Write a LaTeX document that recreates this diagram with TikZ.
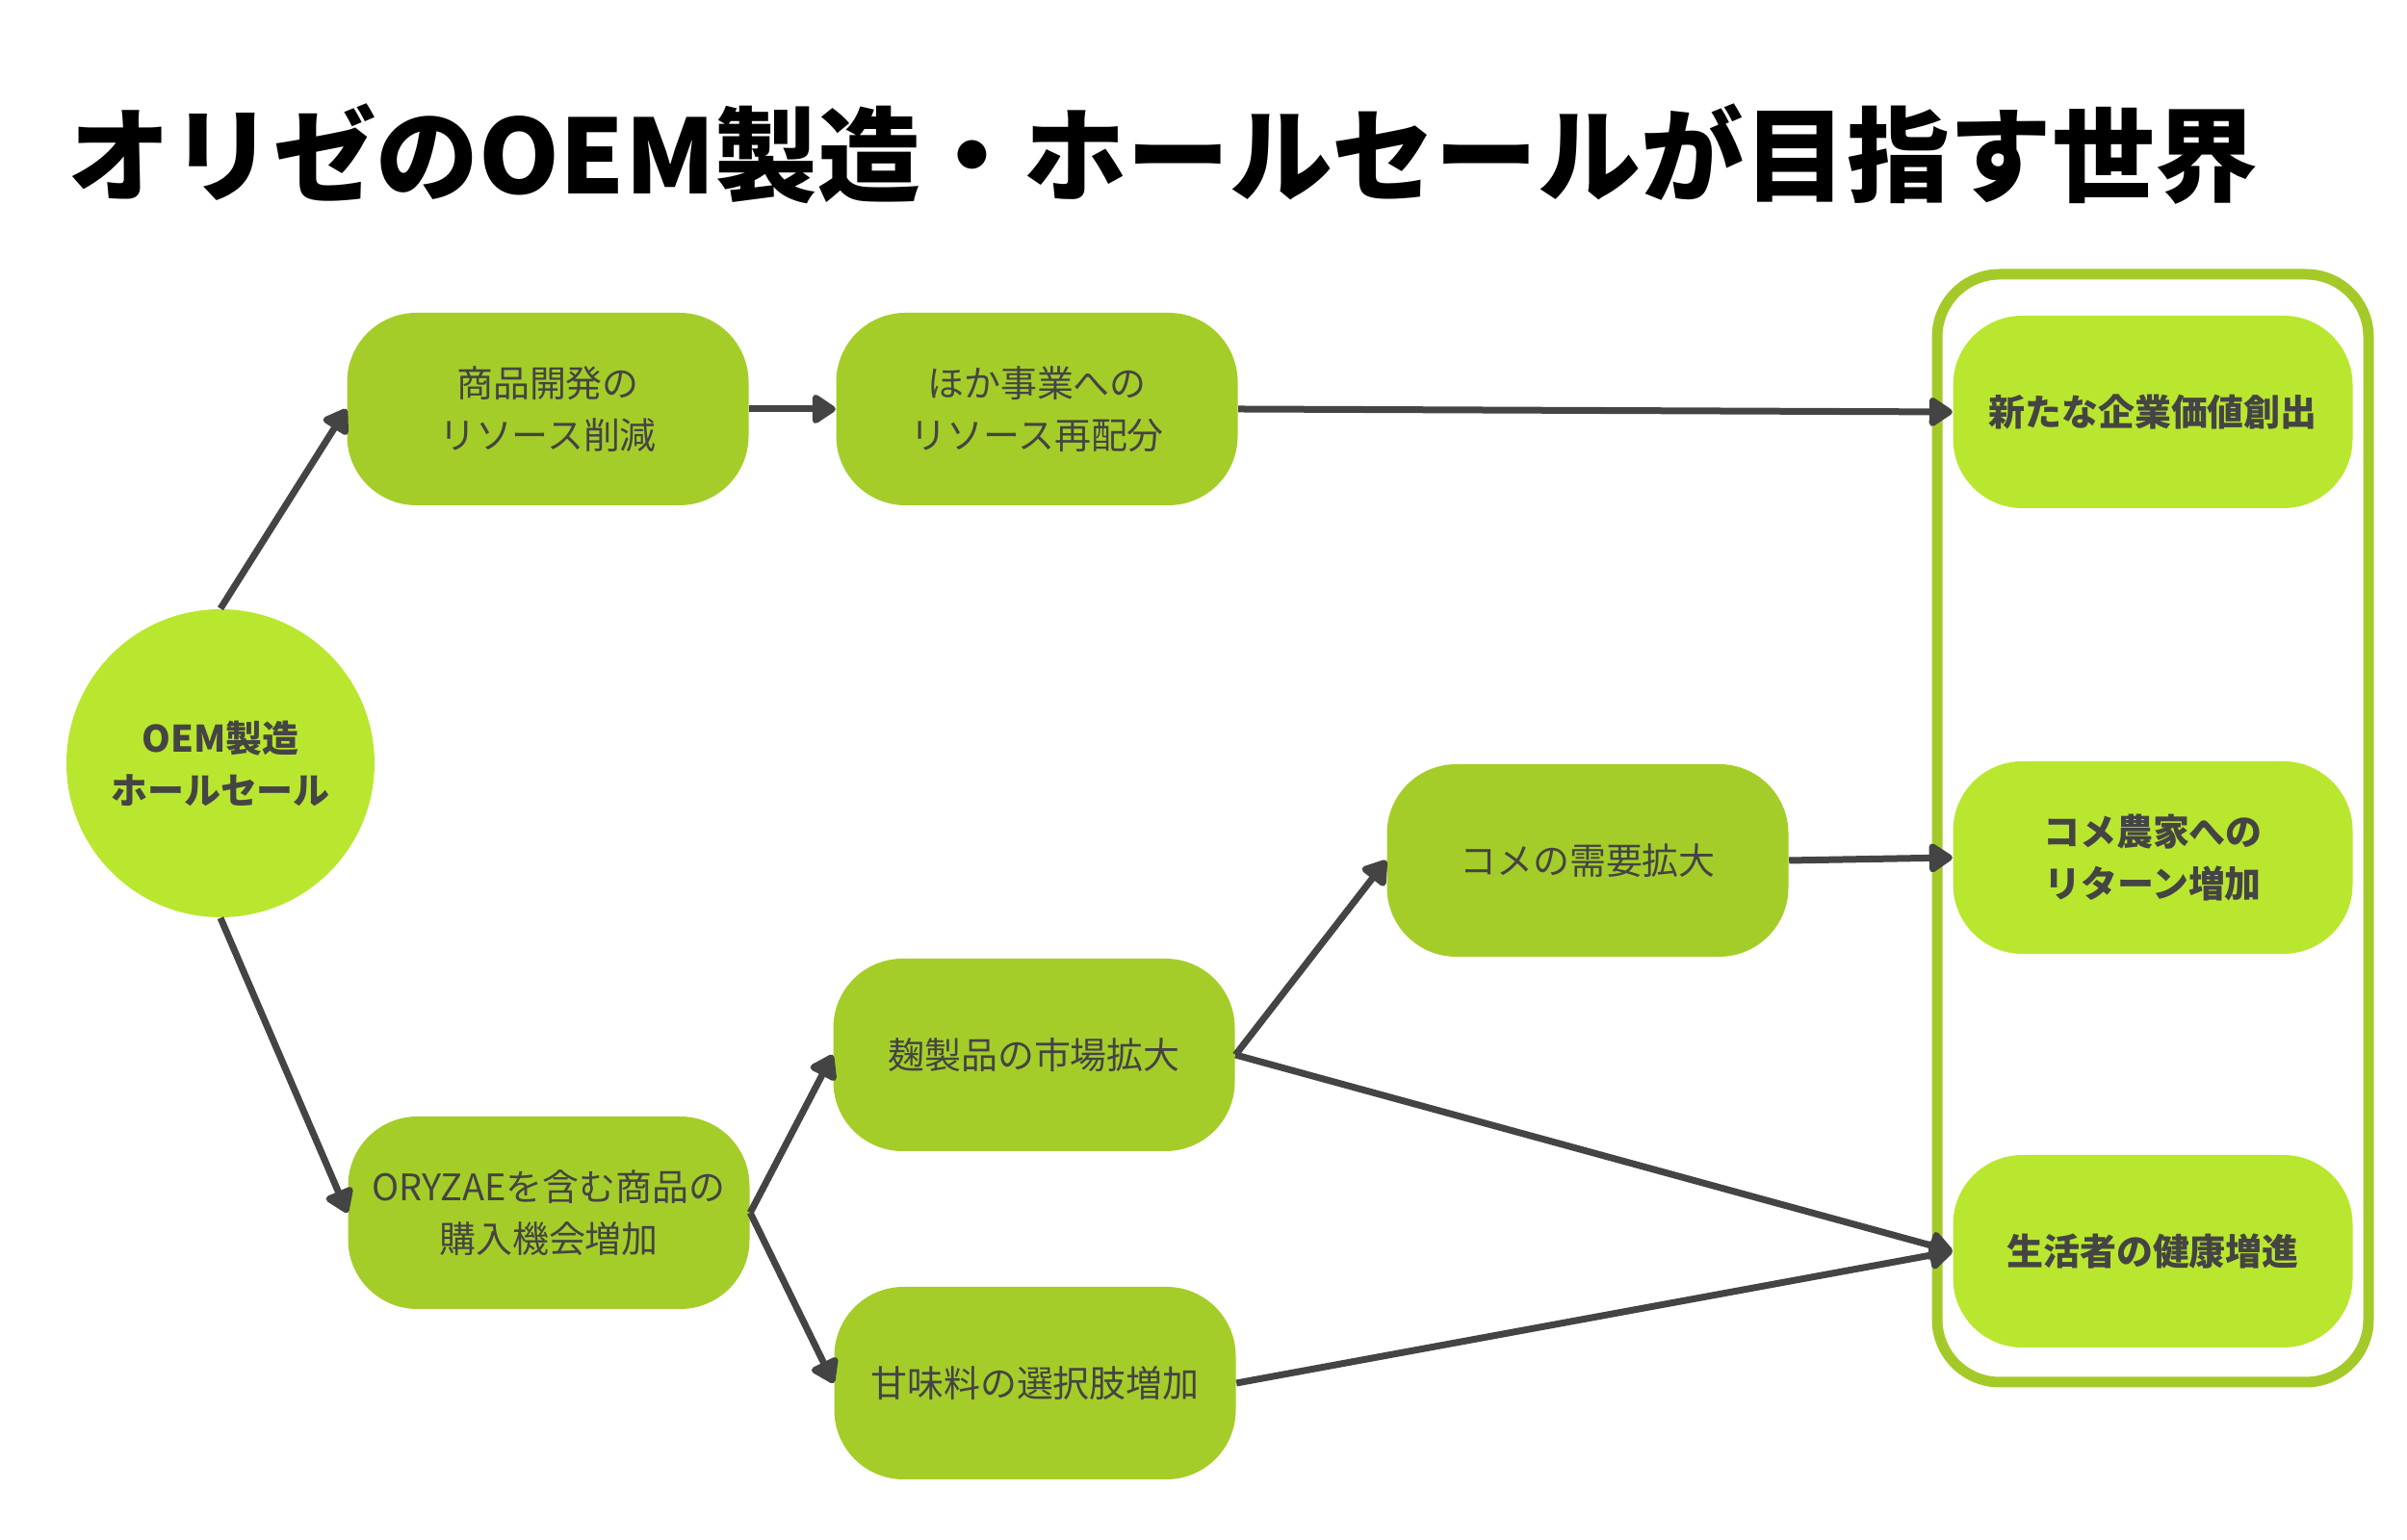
\documentclass[tikz,border=0pt]{standalone}
\usepackage{fontspec}
\setmainfont{Noto Sans CJK JP}
\usepackage{tikz}
\usetikzlibrary{arrows.meta}

\definecolor{limegreen}{HTML}{B9E72F}
\definecolor{olivegreen}{HTML}{A5CD29}
\definecolor{framegreen}{HTML}{A4CA2A}
\definecolor{darkgray}{HTML}{444444}

\begin{document}
\begin{tikzpicture}[
	every node/.style = {text = darkgray, align = center, font = \fontsize{10.8}{15.4}\selectfont},
	stage/.style = {shape = rectangle, rounded corners = .72cm, fill = olivegreen, minimum width = 4.17cm, minimum height = 2cm, inner sep = 0pt},
	goal/.style = {stage, fill = limegreen, minimum width = 4.15cm, font = \fontsize{10.8}{15.4}\selectfont\bfseries},
	link/.style = {draw = darkgray, line width = .07cm, -{Triangle[length = .27cm, width = .34cm, round]}}]
	\useasboundingbox (0, 0) rectangle (25, 16);
	% title
	\node[anchor = west, text = black, font = \fontsize{30.4}{32}\selectfont\bfseries] (title) at (.58, 14.4) {オリゼのOEM製造・ホールセールが目指す世界};
	% start
	\node[shape = circle, fill = limegreen, minimum size = 3.2cm, inner sep = 0pt, font = \fontsize{10.8}{15.4}\selectfont\bfseries] (oem) at (2.29, 8.07) {OEM製造\\ホールセール};
	% middle stages
	\node[stage] (cut) at (5.69, 11.75) {商品開発の\\リソース削減};
	\node[stage] (realloc) at (10.77, 11.75) {ほか事業への\\リソース再配分};
	\node[stage] (buy) at (5.70, 3.40) {ORYZAEを含む商品の\\購入機会増加};
	\node[stage] (koji) at (10.74, 5.04) {麹製品の市場拡大};
	\node[stage] (sweet) at (10.75, 1.63) {甘味料の選択肢増加};
	\node[stage] (rice) at (16.49, 7.06) {コメの需要拡大};
	% goals
	\draw[framegreen, line width = .11cm, rounded corners = .65cm] (20.12, 1.64) rectangle (24.60, 13.15);
	\node[goal] (value) at (22.36, 11.72) {新たな企業価値創出};
	\node[goal] (farmer) at (22.36, 7.09) {コメ農家への\\リターン増加};
	\node[goal] (health) at (22.36, 3.00) {生活者の健康増進};
	% links
	\draw[link] (oem.north) -- (cut.west);
	\draw[link] (cut.east) -- (realloc.west);
	\draw[link] (realloc.east) -- (value.west);
	\draw[link] (oem.south) -- (buy.west);
	\draw[link] (buy.east) -- (koji.west);
	\draw[link] (buy.east) -- (sweet.west);
	\draw[link] (koji.east) -- (rice.west);
	\draw[link] (rice.east) -- (farmer.west);
	\draw[link] (koji.east) -- (health.west);
	\draw[link] (sweet.east) -- (health.west);
\end{tikzpicture}
\end{document}
